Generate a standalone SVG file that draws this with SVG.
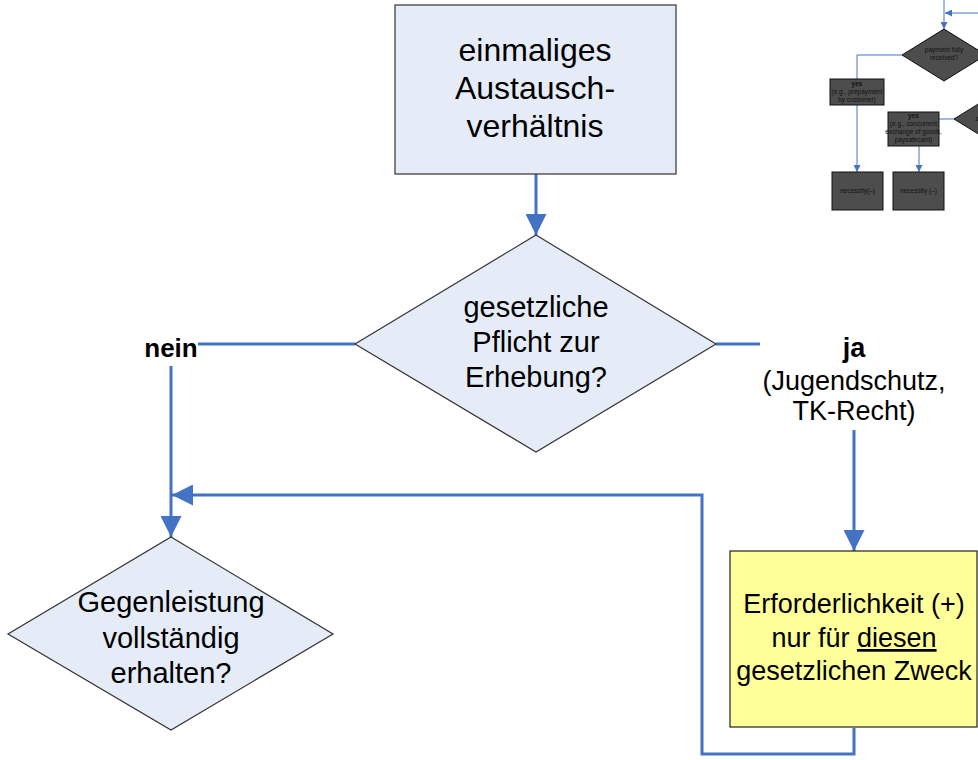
<svg xmlns="http://www.w3.org/2000/svg" width="978" height="760" viewBox="0 0 978 760">
<defs>
<style>
.node{fill:#E6ECF7;stroke:#333;stroke-width:1.2}
.yel{fill:#FFFF99;stroke:#222;stroke-width:1.2}
.t{font-family:"Liberation Sans",Arial,sans-serif;fill:#000;text-anchor:middle}
.c{fill:none;stroke:#4472C4;stroke-width:3}
.cm{fill:none;stroke:#4472C4;stroke-width:1}
.dk{fill:#4D4D4D;stroke:#111;stroke-width:1}
.mt{font-family:"Liberation Sans",Arial,sans-serif;fill:#111;text-anchor:middle;font-size:6.5px}
</style>
<marker id="ah" markerWidth="7" markerHeight="7" refX="7" refY="3.5" orient="auto" markerUnits="strokeWidth">
<path d="M0,0 L7,3.5 L0,7 z" fill="#4472C4"/>
</marker>
<marker id="ahs" markerWidth="7" markerHeight="7" refX="7" refY="3.5" orient="auto" markerUnits="strokeWidth">
<path d="M0,0 L7,3.5 L0,7 z" fill="#4472C4"/>
</marker>
</defs>
<rect width="978" height="760" fill="#fff"/>

<g id="connectors">
<line class="c" x1="536" y1="174" x2="536" y2="235" marker-end="url(#ah)"/>
<line class="c" x1="355" y1="344" x2="198" y2="344"/>
<line class="c" x1="171" y1="366" x2="171" y2="537" marker-end="url(#ah)"/>
<line class="c" x1="716" y1="344" x2="760" y2="344"/>
<line class="c" x1="854" y1="430" x2="854" y2="551" marker-end="url(#ah)"/>
<polyline class="c" points="854,728 854,754 702,754 702,495 172,495" marker-end="url(#ah)"/>
<!-- mini diagram connectors -->
<line class="cm" x1="944" y1="0" x2="944" y2="29" stroke-width="1.2" marker-end="url(#ahs)"/>
<line class="cm" x1="978" y1="13" x2="945" y2="13" stroke-width="1.2" marker-end="url(#ahs)"/>
<polyline class="cm" points="902,55 857,55 857,79"/>
<line class="cm" x1="857" y1="105" x2="857" y2="172" stroke-width="1.2" marker-end="url(#ahs)"/>
<line class="cm" x1="939" y1="119" x2="955" y2="119"/>
<line class="cm" x1="919" y1="146" x2="919" y2="172" stroke-width="1.2" marker-end="url(#ahs)"/>
</g>

<g id="n1">
<rect class="node" x="395" y="5" width="281" height="169"/>
<text class="t" font-size="32"><tspan x="535" y="61">einmaliges</tspan><tspan x="535" y="99">Austausch-</tspan><tspan x="535" y="137">verhältnis</tspan></text>
</g>

<g id="n2">
<polygon class="node" points="536,235 716,344 536,452 355,344"/>
<text class="t" font-size="29"><tspan x="536" y="317">gesetzliche</tspan><tspan x="536" y="352">Pflicht zur</tspan><tspan x="536" y="387">Erhebung?</tspan></text>
</g>

<g id="lbl-nein">
<text class="t" font-size="26" font-weight="bold" x="171" y="357">nein</text>
</g>

<g id="lbl-ja">
<text class="t" font-size="27"><tspan x="854" y="357" font-weight="bold">ja</tspan><tspan x="854" y="390">(Jugendschutz,</tspan><tspan x="854" y="420">TK-Recht)</tspan></text>
</g>

<g id="n3">
<polygon class="node" points="171,537 333,634 171,730 8,634"/>
<text class="t" font-size="29"><tspan x="171" y="612">Gegenleistung</tspan><tspan x="171" y="648">vollständig</tspan><tspan x="171" y="683">erhalten?</tspan></text>
</g>

<g id="n4">
<rect class="yel" x="730" y="551" width="247" height="176"/>
<text class="t" font-size="27"><tspan x="854" y="613">Erforderlichkeit (+)</tspan><tspan x="854" y="647">nur für <tspan text-decoration="underline">diesen</tspan></tspan><tspan x="854" y="680">gesetzlichen Zweck</tspan></text>
</g>

<g id="m1">
<polygon class="dk" points="944,29 986,55 944,81 902,55"/>
<text class="mt"><tspan x="944" y="52">payment fully</tspan><tspan x="944" y="60">received?</tspan></text>
</g>
<g id="m2">
<rect class="dk" x="830" y="79" width="54" height="26" stroke="none"/>
<text class="mt"><tspan x="857" y="86" font-weight="bold">yes</tspan><tspan x="857" y="94">(e.g., prepayment</tspan><tspan x="857" y="102">by customer)</tspan></text>
</g>
<g id="m3">
<rect class="dk" x="888" y="112" width="51" height="34" stroke="none"/>
<text class="mt"><tspan x="913.5" y="118" font-weight="bold">yes</tspan><tspan x="913.5" y="126">(e.g., concurrent</tspan><tspan x="913.5" y="134">exchange of goods,</tspan><tspan x="913.5" y="142">paysafecard)</tspan></text>
</g>
<g id="m4">
<polygon class="dk" points="996,93 1038,119 996,145 954,119"/>
<text class="mt" x="977" y="121">s</text>
</g>
<g id="m5">
<rect class="dk" x="832" y="172" width="51" height="38"/>
<text class="mt" x="857.5" y="193">necessity(–)</text>
</g>
<g id="m6">
<rect class="dk" x="893" y="172" width="51" height="38"/>
<text class="mt" x="918.5" y="193">necessity (–)</text>
</g>
</svg>
